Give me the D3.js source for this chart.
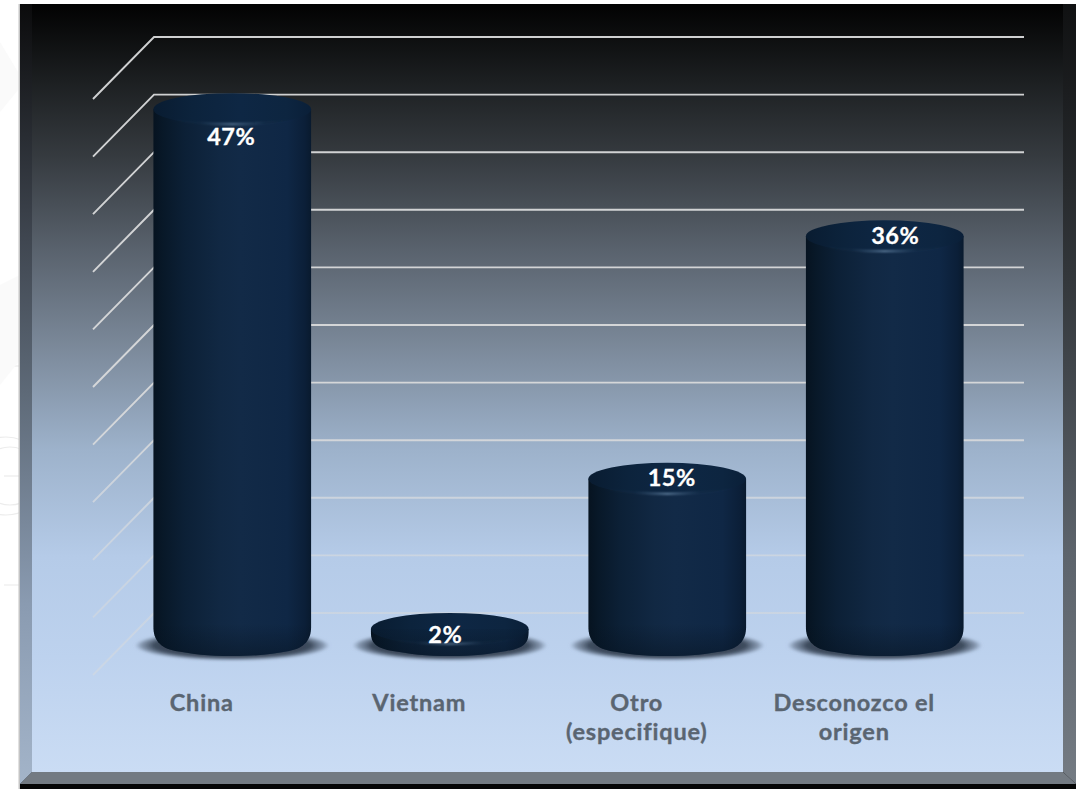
<!DOCTYPE html>
<html>
<head>
<meta charset="utf-8">
<script src="https://cdnjs.cloudflare.com/ajax/libs/d3/7.8.5/d3.min.js"></script>
<style>
  html, body { margin: 0; padding: 0; background: #fff; overflow: hidden; }
  svg { display: block; }
</style>
</head>
<body>
<svg id="chart" width="1076" height="789"></svg>
<script>
// Origin of the product, share of answers
const categories = [["China"], ["Vietnam"], ["Otro", "(especifique)"], ["Desconozco el", "origen"]];
const values = [47, 2, 15, 36];
const valueLabels = ["47%", "2%", "15%", "36%"];
const gridTicks = [0, 5, 10, 15, 20, 25, 30, 35, 40, 45, 50];

// Percentage labels sit slightly off the column axis: [dx, dy] from the cap centre
const labelShift = [[-1, 36], [-4.5, 14.5], [4.5, 7.5], [10.5, 8]];

const W = 1076, H = 789;
const svg = d3.select("#chart");
const defs = svg.append("defs");

// Frame metrics
const panel = { left: 20, top: 4, right: 1076, bottom: 784, innerL: 32, innerR: 1063, innerB: 772 };

// Wall and floor geometry of the pseudo-3D plot
const wallX = [154, 1024];
const depth = { dx: -61, dy: 62 };
const wallY = d3.scaleLinear().domain([0, 50]).range([613, 37]);
const barY = d3.scaleLinear().domain([0, 50]).range([652, 74.5]);
const idx = d3.range(categories.length);
const barX = d3.scaleBand().domain(idx).range([wallX[0] - 30.5, wallX[1] - 30.5]).paddingInner(0.275).paddingOuter(0.1375);
const labelX = d3.scaleBand().domain(idx).range([wallX[0] + depth.dx, wallX[1] + depth.dx]);

const grad = (id, stops, attrs) => {
  const g = defs.append("linearGradient").attr("id", id);
  Object.entries(attrs).forEach(([k, v]) => g.attr(k, v));
  stops.forEach(([o, c, a]) => g.append("stop").attr("offset", o).attr("stop-color", c).attr("stop-opacity", a === undefined ? 1 : a));
};

grad("bgFill", [
  [0, "#020202"], [0.1, "#1c1f21"], [0.2, "#363b40"], [0.32, "#59626d"],
  [0.45, "#7c8a9b"], [0.58, "#9db2cb"], [0.72, "#b5cbe8"], [0.85, "#bdd2ee"], [1, "#cadcf4"]
], { gradientUnits: "userSpaceOnUse", x1: 0, x2: 0, y1: panel.top, y2: panel.innerB });

grad("leftBevel", [[0, "#0b0b0c"], [0.3, "#3f4650"], [0.5, "#5e6a78"], [0.77, "#8a9bb1"], [1, "#a3b4c9"]],
  { gradientUnits: "userSpaceOnUse", x1: 0, x2: 0, y1: panel.top, y2: panel.bottom });
grad("rightBevel", [[0, "#101112"], [0.35, "#33373b"], [0.7, "#5c636b"], [1, "#747b83"]],
  { gradientUnits: "userSpaceOnUse", x1: 0, x2: 0, y1: panel.top, y2: panel.bottom });

// Gridlines fade out as the backdrop gets lighter towards the floor
grad("gridStroke", [
  [0, "#d9dadb", 0.95], [0.6, "#d9dadb", 0.95], [0.74, "#d9dce0", 0.7],
  [0.88, "#dedcd8", 0.45], [1, "#dedcd8", 0.4]
], { gradientUnits: "userSpaceOnUse", x1: 0, x2: 0, y1: 37, y2: 675 });

grad("barBody", [
  [0, "#061320"], [0.06, "#081828"], [0.2, "#0c2036"], [0.42, "#112843"],
  [0.55, "#122a47"], [0.85, "#0f2745"], [0.96, "#0b1f38"], [1, "#091a2e"]
], { x1: 0, x2: 1, y1: 0, y2: 0 });
grad("barFoot", [[0, "#06121f", 0], [1, "#06121f", 0.5]], { x1: 0, x2: 0, y1: 0, y2: 1 });
grad("barCap", [[0, "#091c31"], [0.25, "#0c233c"], [0.55, "#0e2744"], [0.85, "#0d2540"], [1, "#0a1f38"]], { x1: 0, x2: 1, y1: 0, y2: 0 });
grad("rimGlow", [[0, "#6f93b8", 0], [0.25, "#5f83a8", 0.08], [0.5, "#8fb0d0", 0.85], [0.75, "#5f83a8", 0.08], [1, "#6f93b8", 0]], { x1: 0, x2: 1, y1: 0, y2: 0 });

const shadow = defs.append("radialGradient").attr("id", "floorShadow");
[[0, "#2c3848", 1], [0.8, "#364354", 0.95], [0.93, "#56657a", 0.55], [1, "#6f8199", 0]]
  .forEach(([o, c, a]) => shadow.append("stop").attr("offset", o).attr("stop-color", c).attr("stop-opacity", a));

defs.append("filter").attr("id", "soft").attr("x", "-10%").attr("y", "-100%").attr("width", "120%").attr("height", "300%")
  .append("feGaussianBlur").attr("stdDeviation", 0.9);
defs.append("filter").attr("id", "softer").attr("x", "-10%").attr("y", "-30%").attr("width", "120%").attr("height", "160%")
  .append("feGaussianBlur").attr("stdDeviation", 1.4);

// Faint watermark shapes on the page behind the frame
const page = svg.append("g").attr("fill", "none").attr("stroke", "#ececec").attr("stroke-width", 1.2);
page.append("circle").attr("cx", 6).attr("cy", 476).attr("r", 39);
page.append("circle").attr("cx", 10).attr("cy", 476).attr("r", 29);
[318, 366, 476, 585].forEach(y => page.append("line").attr("x1", 4).attr("x2", 20).attr("y1", y).attr("y2", y));
svg.append("path").attr("fill", "#fafafa").attr("d", "M0,42L18,72L18,90L0,112Z");
svg.append("path").attr("fill", "#fafafa").attr("d", "M0,285L20,275L20,360L0,385Z");

// Frame: black backing, bevels and the gradient panel
svg.append("rect").attr("x", panel.left - 1.5).attr("y", panel.top).attr("width", 1.5)
  .attr("height", H - panel.top).attr("fill", "#c4c4c4");
svg.append("rect").attr("x", panel.left).attr("y", panel.top)
  .attr("width", panel.right - panel.left).attr("height", H - panel.top).attr("fill", "#050505");
svg.append("path").attr("fill", "#737a82")
  .attr("d", `M${panel.left},${panel.bottom}L${panel.innerL},${panel.innerB}L${panel.innerR},${panel.innerB}L${panel.right},${panel.bottom}Z`);
svg.append("path").attr("fill", "url(#leftBevel)")
  .attr("d", `M${panel.left},${panel.top}L${panel.innerL},${panel.top}L${panel.innerL},${panel.innerB}L${panel.left},${panel.bottom}Z`);
svg.append("path").attr("fill", "url(#rightBevel)")
  .attr("d", `M${panel.innerR},${panel.top}L${panel.right},${panel.top}L${panel.right},${panel.bottom}L${panel.innerR},${panel.innerB}Z`);
svg.append("rect").attr("x", panel.innerL).attr("y", panel.top)
  .attr("width", panel.innerR - panel.innerL).attr("height", panel.innerB - panel.top).attr("fill", "url(#bgFill)");

// Gridlines on the back wall and on the side wall
const grid = svg.append("g").attr("fill", "none").attr("stroke", "url(#gridStroke)").attr("stroke-width", 1.9);
grid.selectAll("path").data(gridTicks).join("path")
  .attr("d", d => `M${wallX[0] + depth.dx},${wallY(d) + depth.dy}L${wallX[0]},${wallY(d)}L${wallX[1]},${wallY(d)}`);

// Columns
const ry = 16;
const bottomY = 656;
const columnPath = (x0, w, top) => {
  const x1 = x0 + w, cx = x0 + w / 2;
  const side = Math.max(627, top + 3);
  return `M${x0},${top}L${x0},${side}` +
    `C${x0},${side + 12} ${x0 + 6},${bottomY - 8} ${x0 + 22},${bottomY - 5}` +
    `C${x0 + 40},${bottomY - 2} ${cx - 25},${bottomY} ${cx},${bottomY}` +
    `C${cx + 25},${bottomY} ${x1 - 40},${bottomY - 2} ${x1 - 22},${bottomY - 5}` +
    `C${x1 - 6},${bottomY - 8} ${x1},${side + 12} ${x1},${side}L${x1},${top}Z`;
};

const bars = svg.selectAll("g.col").data(values).join("g").attr("class", "col");
bars.append("ellipse").attr("fill", "url(#floorShadow)").attr("filter", "url(#softer)")
  .attr("cx", (d, i) => barX(i) + barX.bandwidth() / 2)
  .attr("cy", 645.5).attr("rx", barX.bandwidth() / 2 + 19).attr("ry", 15);
bars.append("path").attr("fill", "url(#barBody)")
  .attr("d", (d, i) => columnPath(barX(i), barX.bandwidth(), barY(d)));
bars.append("clipPath").attr("id", (d, i) => `foot${i}`).append("path")
  .attr("d", (d, i) => columnPath(barX(i), barX.bandwidth(), barY(d)));
bars.append("ellipse").attr("fill", "url(#barCap)")
  .attr("cx", (d, i) => barX(i) + barX.bandwidth() / 2)
  .attr("cy", d => barY(d)).attr("rx", barX.bandwidth() / 2).attr("ry", ry);
bars.append("rect").attr("clip-path", (d, i) => `url(#foot${i})`).attr("fill", "url(#barFoot)")
  .attr("x", (d, i) => barX(i)).attr("width", barX.bandwidth())
  .attr("y", 624).attr("height", 34);
// Thin light rim along the front of each cap
bars.append("path").attr("fill", "none").attr("stroke", "url(#rimGlow)").attr("stroke-width", 1.4)
  .attr("filter", "url(#soft)")
  .attr("d", (d, i) => {
    const cx = barX(i) + barX.bandwidth() / 2, y = barY(d) + ry;
    return `M${cx - 66},${y - 6}Q${cx},${y + 4} ${cx + 66},${y - 6}`;
  });

// Percentages on the columns
svg.append("g").selectAll("text").data(valueLabels).join("text")
  .attr("x", (d, i) => barX(i) + barX.bandwidth() / 2 + labelShift[i][0])
  .attr("y", (d, i) => barY(values[i]) + labelShift[i][1])
  .attr("text-anchor", "middle").attr("fill", "#ffffff")
  .attr("stroke", "#ffffff").attr("stroke-width", 0.3)
  .attr("font-family", "Lato, sans-serif").attr("font-weight", 700).attr("font-size", 23.5)
  .attr("letter-spacing", 0.5)
  .text(d => d);

// Category names along the front edge of the floor
svg.append("g").selectAll("text").data(categories).join("text")
  .attr("text-anchor", "middle").attr("fill", "#5a6571")
  .attr("stroke", "#5a6571").attr("stroke-width", 0.35)
  .attr("font-family", "Lato, sans-serif").attr("font-weight", 700).attr("font-size", 23.5)
  .attr("letter-spacing", 0.8)
  .each(function (d, i) {
    d3.select(this).selectAll("tspan").data(d).join("tspan")
      .attr("x", labelX(i) + labelX.bandwidth() / 2)
      .attr("y", (t, j) => 711 + j * 29)
      .text(t => t);
  });
</script>
</body>
</html>
